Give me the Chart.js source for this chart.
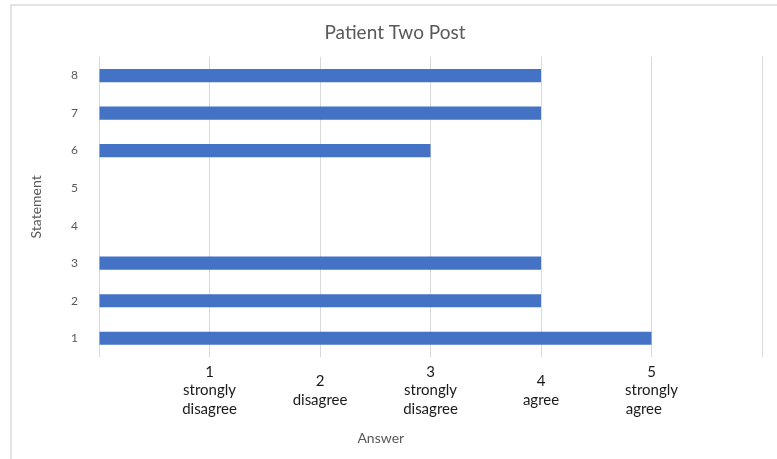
<!DOCTYPE html>
<html>
<head>
<meta charset="utf-8">
<title>Patient Two Post</title>
<script src="https://cdn.jsdelivr.net/npm/chart.js@4"></script>
<style>
  html, body { margin: 0; padding: 0; background: #fff; }
  #wrap { position: relative; width: 777px; height: 459px; }
  #frame {
    position: absolute; left: 10px; top: 4px; right: 0; bottom: 0;
    border-left: 2px solid #e3e3e3; border-top: 2px solid #e3e3e3;
    pointer-events: none;
  }
  canvas { position: absolute; left: 0; top: 0; }
</style>
</head>
<body>
<div id="wrap">
  <canvas id="chart" width="777" height="459"></canvas>
  <div id="frame"></div>
</div>
<script>
// Statements (bottom to top) and the answer given for each one
const statements = ['1', '2', '3', '4', '5', '6', '7', '8'];
const answers = [5, 4, 4, null, null, 3, 4, 4];

// Answer scale labels shown under the value axis
const answerTicks = {
  1: ['1', 'strongly', 'disagree'],
  2: ['2', 'disagree'],
  3: ['3', 'strongly', 'disagree'],
  4: ['4', 'agree'],
  5: ['5', 'strongly', 'agree']
};

const FONT = 'Lato, "Open Sans", sans-serif';
const TICK_FONT = '15px ' + FONT;

// Pads the word lines of a label with trailing spaces so that, when the
// label is centred, the words line up on their left edge.
const measureCtx = document.createElement('canvas').getContext('2d');
function leftAlignWords(lines) {
  measureCtx.font = TICK_FONT;
  const words = lines.slice(1);
  const widest = Math.max(...words.map(w => measureCtx.measureText(w).width));
  const space = measureCtx.measureText(' ').width;
  const padded = words.map(w => {
    const n = Math.round((widest - measureCtx.measureText(w).width) / space);
    return w + ' '.repeat(Math.max(0, n));
  });
  return [lines[0], ...padded];
}

// Draws the "Answer" axis caption below the tick labels
const answerCaption = {
  id: 'answerCaption',
  afterDraw(chart) {
    const x = chart.scales.x;
    const ctx = chart.ctx;
    ctx.save();
    ctx.font = '14px ' + FONT;
    ctx.fillStyle = '#595959';
    ctx.textAlign = 'center';
    ctx.textBaseline = 'middle';
    ctx.fillText('Answer', x.getPixelForValue(2.55), 438);
    ctx.restore();
  }
};

new Chart(document.getElementById('chart'), {
  type: 'bar',
  data: {
    labels: statements,
    datasets: [{
      label: 'Answer',
      data: answers,
      backgroundColor: '#4472C4',
      borderWidth: 0,
      categoryPercentage: 1,
      barPercentage: 0.35
    }]
  },
  options: {
    indexAxis: 'y',
    responsive: false,
    animation: false,
    layout: { padding: { left: 28, right: 15, top: 0, bottom: 0 } },
    plugins: {
      legend: { display: false },
      tooltip: { enabled: false },
      title: {
        display: true,
        text: 'Patient Two Post',
        color: '#595959',
        font: { family: FONT, size: 19, weight: 'normal' },
        padding: { top: 21, bottom: 13 }
      }
    },
    scales: {
      x: {
        type: 'linear',
        min: 0,
        max: 6,
        grid: { color: '#d9d9d9', lineWidth: 1, drawTicks: false },
        border: { display: false },
        ticks: {
          stepSize: 1,
          padding: 15,
          color: '#1a1a1a',
          crossAlign: 'center',
          font: { family: FONT, size: 15, lineHeight: 1.23 },
          callback: (v) => answerTicks[v] ? leftAlignWords(answerTicks[v]) : ''
        },
        afterFit(scale) { scale.height = 102; }
      },
      y: {
        reverse: true,
        grid: { display: false },
        border: { display: false },
        ticks: {
          padding: 13,
          color: '#595959',
          font: { family: FONT, size: 12 }
        },
        title: {
          display: true,
          text: 'Statement',
          color: '#595959',
          font: { family: FONT, size: 14 },
          padding: { top: 0, bottom: 0 }
        },
        afterFit(scale) { scale.width = 71; }
      }
    }
  },
  plugins: [answerCaption]
});
</script>
</body>
</html>
